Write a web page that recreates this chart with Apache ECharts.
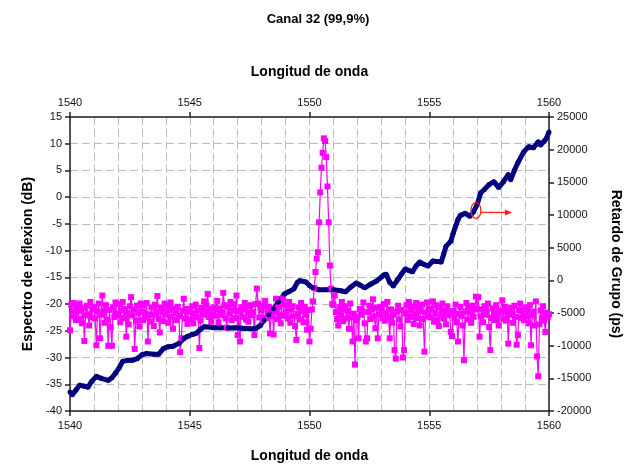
<!DOCTYPE html>
<html><head><meta charset="utf-8">
<script src="https://cdn.jsdelivr.net/npm/echarts@6/dist/echarts.min.js"></script>
<style>html,body{margin:0;padding:0;background:#fff}#c{width:636px;height:468px}</style>
</head><body><div id="c"></div>
<script>
// ---------------- data ----------------
const titleText = 'Canal 32 (99,9%)';
const xName = 'Longitud de onda';
const yLeftName = 'Espectro de reflexion (dB)';
const yRightName = 'Retardo de Grupo (ps)';

// reflection spectrum (dB), sampled from 1540 nm every 0.05 nm (one row per nm)
const specStart = 1540;
const specStep = 0.05;
const specRows = [
  [-24.9,-20.1,-22.3,-19.8,-21.5,-23.0,-20.4,-22.8,-19.9,-21.2,-23.6,-20.8,-26.9,-22.1,-20.3,-21.9,-24.0,-19.6,-22.5,-21.0],
  [-20.5,-22.7,-27.7,-21.4,-19.9,-26.4,-22.0,-18.4,-21.3,-23.5,-20.2,-22.9,-27.8,-21.1,-24.3,-27.8,-20.6,-22.4,-19.7,-21.8],
  [-22.2,-20.0,-23.4,-21.2,-19.6,-22.6,-20.9,-26.1,-21.7,-23.8,-20.4,-18.7,-22.1,-21.0,-28.4,-23.1,-20.3,-21.6,-24.2,-19.9],
  [-21.4,-23.0,-20.2,-22.5,-19.8,-27.0,-21.9,-23.3,-20.6,-22.0,-24.1,-20.1,-21.7,-18.5,-22.8,-25.3,-20.7,-21.5,-23.2,-19.9],
  [-22.0,-20.3,-23.5,-21.1,-19.7,-22.4,-24.6,-20.8,-21.6,-23.0,-20.5,-22.2,-29.0,-26.4,-21.3,-19.0,-22.7,-20.9,-23.7,-21.4],
  [-21.0,-22.9,-20.4,-23.6,-21.7,-20.1,-22.5,-21.2,-28.2,-23.1,-20.7,-22.0,-19.5,-21.5,-20.3,-18.1,-22.4,-20.9,-23.3,-21.6],
  [-20.6,-22.2,-21.0,-19.4,-23.4,-20.8,-22.1,-21.5,-17.9,-20.2,-22.7,-24.4,-20.5,-21.8,-19.6,-23.0,-21.2,-20.0,-22.6,-18.4],
  [-25.8,-21.3,-27.0,-20.6,-22.4,-21.0,-19.8,-22.9,-20.4,-23.3,-21.6,-20.2,-22.1,-21.4,-25.8,-20.0,-17.1,-19.9,-22.5,-20.7],
  [-21.1,-23.0,-20.3,-19.4,-22.6,-21.7,-20.5,-25.5,-22.3,-20.9,-25.7,-21.5,-19.0,-22.8,-20.6,-21.9,-23.6,-20.1,-18.9,-22.2],
  [-21.4,-20.2,-22.7,-19.6,-23.5,-21.0,-20.4,-22.3,-24.1,-26.7,-21.8,-20.6,-22.9,-19.8,-21.3,-23.4,-20.5,-22.0,-24.8,-21.1],
  [-27.0,-24.6,-21.0,-19.5,-17.0,-14.0,-11.5,-10.3,-4.7,0.9,5.5,8.3,11.0,10.5,7.5,2.0,-4.7,-12.8,-17.1,-20.0],
  [-20.2,-18.4,-21.5,-22.8,-24.0,-20.6,-22.1,-19.6,-23.2,-21.0,-20.4,-22.7,-21.3,-24.6,-19.9,-22.5,-27.0,-21.8,-31.3,-23.0],
  [-22.4,-26.4,-20.9,-22.0,-21.3,-19.7,-23.6,-27.0,-26.4,-21.5,-20.3,-22.8,-21.0,-19.1,-22.3,-24.5,-20.7,-26.4,-21.9,-20.5],
  [-21.2,-22.6,-20.0,-23.1,-21.7,-19.6,-22.4,-26.4,-21.0,-23.5,-22.0,-28.6,-30.2,-21.4,-20.3,-22.9,-24.2,-21.1,-30.0,-28.6],
  [-21.8,-20.2,-23.0,-19.6,-22.4,-21.1,-20.5,-23.7,-21.9,-19.8,-22.6,-20.9,-24.0,-21.3,-20.1,-22.8,-28.9,-21.6,-19.7,-22.3],
  [-20.8,-22.5,-21.0,-19.5,-23.3,-21.7,-20.2,-22.9,-24.1,-20.6,-21.9,-19.9,-22.7,-21.2,-23.8,-20.4,-22.1,-21.5,-25.2,-26.0],
  [-21.3,-22.6,-20.1,-23.4,-27.0,-21.8,-20.5,-22.2,-24.0,-30.5,-21.4,-19.8,-22.9,-20.7,-21.6,-23.5,-20.3,-22.4,-21.0,-18.6],
  [-20.9,-18.7,-26.1,-22.3,-21.0,-23.4,-20.4,-22.0,-21.5,-19.9,-24.3,-28.6,-22.6,-20.8,-21.7,-23.0,-20.2,-22.5,-24.0,-21.3],
  [-21.6,-19.3,-22.8,-20.5,-23.1,-21.2,-27.4,-22.0,-20.7,-21.8,-23.5,-20.3,-22.4,-27.6,-25.8,-21.1,-19.9,-22.6,-21.4,-23.0],
  [-20.6,-22.3,-21.1,-23.6,-20.2,-27.7,-22.0,-21.4,-24.0,-19.5,-29.8,-33.5,-23.8,-21.2,-22.7,-20.4,-23.1,-25.2,-21.6,-22.5],
  [-21.9]
];

// group delay (ps)
const gdWl = [1540.0,1540.1,1540.25,1540.4,1540.6,1540.75,1540.9,1541.1,1541.3,1541.6,1541.75,1541.9,1542.05,1542.2,1542.4,1542.6,1542.8,1543.0,1543.2,1543.5,1543.7,1543.9,1544.1,1544.3,1544.55,1544.75,1544.9,1545.1,1545.25,1545.45,1545.6,1545.8,1546.0,1546.3,1546.6,1546.9,1547.2,1547.5,1547.75,1547.95,1548.1,1548.3,1548.5,1548.7,1548.95,1549.15,1549.35,1549.5,1549.6,1549.85,1550.0,1550.15,1550.4,1550.7,1551.0,1551.3,1551.5,1551.7,1551.95,1552.1,1552.3,1552.55,1552.8,1553.0,1553.1,1553.2,1553.35,1553.5,1553.7,1553.85,1554.0,1554.15,1554.3,1554.45,1554.6,1554.8,1554.95,1555.15,1555.3,1555.5,1555.6,1555.7,1555.9,1556.0,1556.1,1556.2,1556.3,1556.5,1556.7,1556.85,1557.0,1557.15,1557.3,1557.5,1557.7,1557.9,1558.1,1558.3,1558.4,1558.55,1558.7,1558.95,1559.15,1559.35,1559.55,1559.65,1559.8,1559.9,1560.0];
const gdPs = [-17100,-17500,-16800,-16050,-16200,-16350,-15500,-14700,-15000,-15300,-14900,-14200,-13400,-12400,-12250,-12250,-12000,-11400,-11200,-11300,-11300,-10450,-10150,-10100,-9650,-8900,-8600,-8300,-8150,-7500,-7100,-7150,-7250,-7250,-7300,-7250,-7350,-7400,-7400,-6900,-6100,-5300,-4350,-3300,-2100,-1700,-1300,-300,-50,-250,-800,-1150,-1450,-1450,-1450,-1600,-1750,-1100,-400,-700,-1150,-600,-100,500,800,950,-300,-850,200,1000,1750,1500,1300,2200,2800,2400,2200,2950,2900,2800,4000,5200,6000,7200,8300,9300,9950,10250,9800,10500,11600,13400,13900,14650,15100,14200,15100,16200,15400,16800,18000,19700,20450,20300,21200,20700,21300,21800,22700];

// annotation (red ellipse + arrow), in data coordinates (nm, ps)
const annotCenter = [1556.95, 10700];
const annotArrowEnd = [1558.45, 10400];

// axis ranges
const xMin = 1540, xMax = 1560, xStep = 5;
const yLMin = -40, yLMax = 15, yLStep = 5;
const yRMin = -20000, yRMax = 25000, yRStep = 5000;

// ---------------- build ----------------
const specData = [];
specRows.forEach((row, r) => row.forEach((v, i) => {
  specData.push([+(specStart + r + i * specStep).toFixed(2), v]);
}));
const gdData = gdWl.map((w, i) => [w, gdPs[i]]);

const FONT = '"Liberation Sans", Arial, sans-serif';
const axisLine = { show: true, onZero: false, lineStyle: { color: '#222', width: 1.5 } };
const gridDash = { show: true, lineStyle: { color: '#bdbdbd', width: 1, type: [8, 4] } };
const plain = v => String(v);
const lbl = { color: '#111', fontSize: 11, fontFamily: FONT, formatter: plain };
const nameStyle = { color: '#000', fontSize: 14, fontWeight: 'bold', fontFamily: FONT };
const tick = { show: true, length: 5, lineStyle: { color: '#222', width: 1.5 } };

const chart = echarts.init(document.getElementById('c'), null, { renderer: 'canvas' });
chart.setOption({
  animation: false,
  backgroundColor: '#fff',
  title: {
    text: titleText, left: 'center', top: 8,
    textStyle: { color: '#000', fontSize: 13, fontWeight: 'bold', fontFamily: FONT }
  },
  grid: { left: 70, right: 87, top: 117, bottom: 55, containLabel: false },
  xAxis: [
    {
      type: 'value', position: 'bottom', min: xMin, max: xMax, interval: xStep,
      name: xName, nameLocation: 'middle', nameGap: 38, nameTextStyle: nameStyle,
      axisLine: axisLine, axisTick: tick,
      axisLabel: Object.assign({ margin: 9 }, lbl),
      splitLine: gridDash,
      minorTick: { show: false, splitNumber: 5 },
      minorSplitLine: gridDash
    },
    {
      type: 'value', position: 'top', min: xMin, max: xMax, interval: xStep,
      name: xName, nameLocation: 'middle', nameGap: 38, nameTextStyle: nameStyle,
      axisLine: axisLine, axisTick: tick,
      axisLabel: Object.assign({ margin: 9 }, lbl),
      splitLine: { show: false }
    }
  ],
  yAxis: [
    {
      type: 'value', position: 'left', min: yLMin, max: yLMax, interval: yLStep,
      name: yLeftName, nameLocation: 'middle', nameGap: 32, nameTextStyle: nameStyle,
      axisLine: axisLine, axisTick: tick,
      axisLabel: Object.assign({ margin: 8 }, lbl),
      splitLine: gridDash
    },
    {
      type: 'value', position: 'right', min: yRMin, max: yRMax, interval: yRStep,
      name: yRightName, nameLocation: 'middle', nameGap: 60, nameRotate: -90, nameTextStyle: nameStyle,
      axisLine: axisLine, axisTick: tick,
      axisLabel: Object.assign({ margin: 8 }, lbl),
      splitLine: { show: false }
    }
  ],
  series: [
    {
      name: 'Espectro', type: 'line', xAxisIndex: 0, yAxisIndex: 0, data: specData,
      showAllSymbol: true, symbol: 'rect', symbolSize: 6,
      lineStyle: { color: '#ff00ff', width: 1.2 },
      itemStyle: { color: '#ff00ff' }
    },
    {
      name: 'Retardo', type: 'line', xAxisIndex: 0, yAxisIndex: 1, data: gdData,
      showAllSymbol: true, symbol: 'circle', symbolSize: 5,
      lineStyle: { color: '#000080', width: 5 },
      itemStyle: { color: '#000080' }
    },
    {
      name: 'annot', type: 'custom', xAxisIndex: 0, yAxisIndex: 1,
      data: [[annotCenter[0], annotCenter[1], annotArrowEnd[0], annotArrowEnd[1]]],
      z: 10,
      renderItem: function (params, api) {
        const c = api.coord([api.value(0), api.value(1)]);
        const e = api.coord([api.value(2), api.value(3)]);
        const y = c[1] + 2;
        return {
          type: 'group',
          children: [
            { type: 'ellipse', shape: { cx: c[0], cy: c[1], rx: 5, ry: 8 },
              style: { fill: 'none', stroke: '#ff2020', lineWidth: 1.3 } },
            { type: 'line', shape: { x1: c[0] + 5, y1: y, x2: e[0] - 5, y2: y },
              style: { stroke: '#ff2020', lineWidth: 1.3 } },
            { type: 'polygon', shape: { points: [[e[0], y], [e[0] - 7, y - 3], [e[0] - 7, y + 3]] },
              style: { fill: '#ff2020' } }
          ]
        };
      }
    }
  ]
});
</script></body></html>
